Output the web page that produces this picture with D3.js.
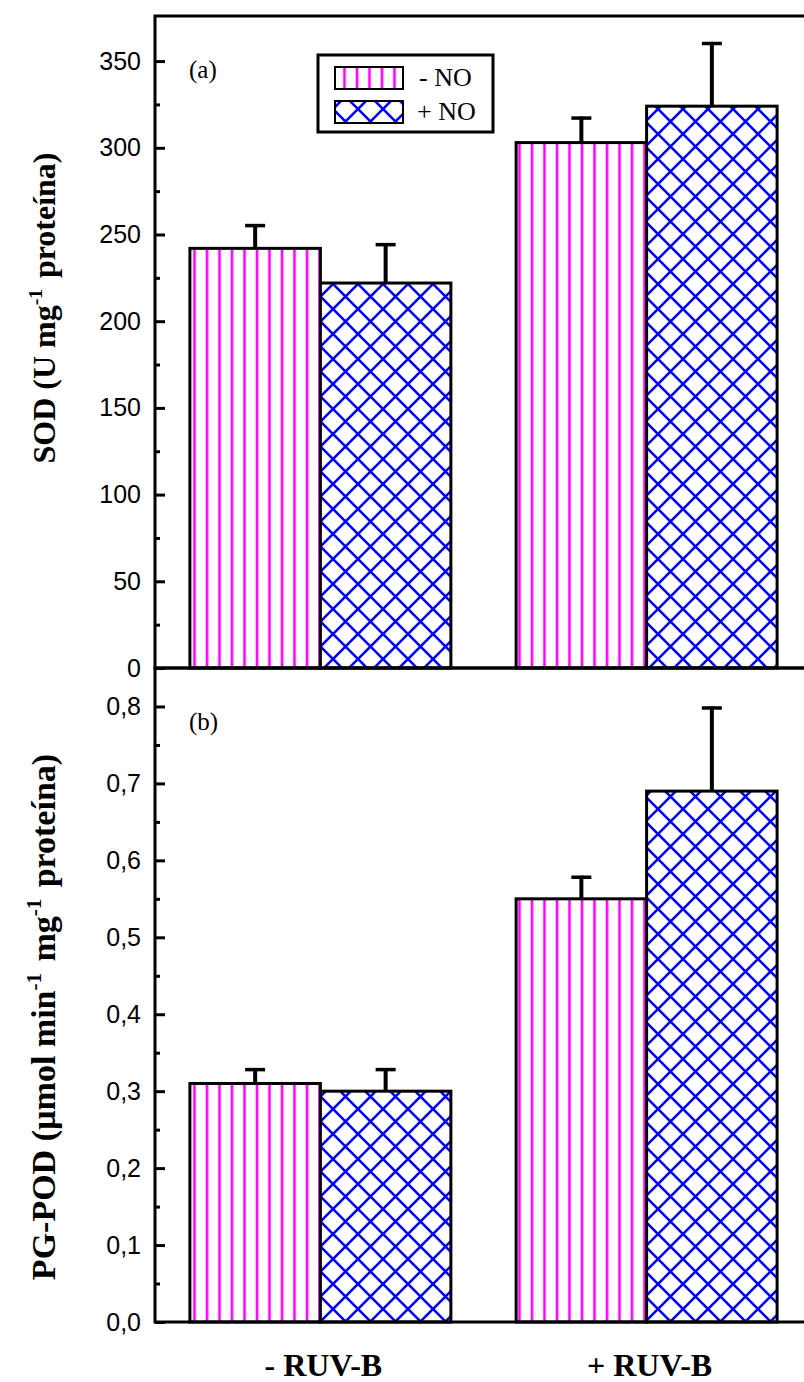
<!DOCTYPE html>
<html>
<head>
<meta charset="utf-8">
<script src="https://cdn.jsdelivr.net/npm/d3@7"></script>
<style>
html,body{margin:0;padding:0;background:#fff;}
svg{display:block;}
</style>
</head>
<body>
<div id="chart"></div>
<script>
// ---- data ----
const groups = ["- RUV-B", "+ RUV-B"];
const series = ["- NO", "+ NO"];
const sodMinusNO = [242, 303];
const sodPlusNO = [222, 324];
const sodErrMinusNO = [14, 15];
const sodErrPlusNO = [23, 37];
const podMinusNO = [0.31, 0.55];
const podPlusNO = [0.30, 0.69];
const podErrMinusNO = [0.02, 0.03];
const podErrPlusNO = [0.03, 0.11];
const sodTicks = [0, 50, 100, 150, 200, 250, 300, 350];
const sodMinorTicks = [25, 75, 125, 175, 225, 275, 325];
const podTicks = [0, 0.1, 0.2, 0.3, 0.4, 0.5, 0.6, 0.7, 0.8];
const podMinorTicks = [0.05, 0.15, 0.25, 0.35, 0.45, 0.55, 0.65, 0.75];

const W = 804, H = 1382;
const svg = d3.select("#chart").append("svg").attr("width", W).attr("height", H);

const colors = {"- NO": "#ff00ff", "+ NO": "#0000ff"};

// patterns
const defs = svg.append("defs");
const pv = defs.append("pattern").attr("id", "pat-minus").attr("patternUnits", "userSpaceOnUse")
  .attr("width", 12.5).attr("height", 10).attr("x", 1);
pv.append("rect").attr("width", 12.5).attr("height", 10).attr("fill", "#fff");
pv.append("line").attr("x1", 6).attr("x2", 6).attr("y1", 0).attr("y2", 10)
  .attr("stroke", colors["- NO"]).attr("stroke-width", 2.6);
const ph = defs.append("pattern").attr("id", "pat-plus").attr("patternUnits", "userSpaceOnUse")
  .attr("width", 25).attr("height", 25).attr("x", 8).attr("y", 9);
ph.append("rect").attr("width", 25).attr("height", 25).attr("fill", "#fff");
ph.append("path").attr("d", "M-2,-2L27,27M27,-2L-2,27")
  .attr("stroke", colors["+ NO"]).attr("stroke-width", 2.6).attr("fill", "none");
const patId = {"- NO": "url(#pat-minus)", "+ NO": "url(#pat-plus)"};

const x0 = d3.scaleBand().domain(groups).range([155, 812]).paddingInner(0.2).paddingOuter(0.107);
const x1 = d3.scaleBand().domain(series).range([0, x0.bandwidth()]);

function panel(cfg) {
  const y = d3.scaleLinear().domain(cfg.domain).range([cfg.bottom, cfg.top]);
  const g = svg.append("g");
  const rows = [];
  groups.forEach((gr, i) => {
    rows.push({g: gr, s: "- NO", v: cfg.minus[i], e: cfg.errMinus[i]});
    rows.push({g: gr, s: "+ NO", v: cfg.plus[i], e: cfg.errPlus[i]});
  });
  // error bars
  rows.forEach(d => {
    const cx = x0(d.g) + x1(d.s) + x1.bandwidth() / 2;
    g.append("line").attr("x1", cx).attr("x2", cx).attr("y1", y(d.v)).attr("y2", y(d.v + d.e))
      .attr("stroke", "#000").attr("stroke-width", 4);
    g.append("line").attr("x1", cx - 10).attr("x2", cx + 10).attr("y1", y(d.v + d.e) + 1.5).attr("y2", y(d.v + d.e) + 1.5)
      .attr("stroke", "#000").attr("stroke-width", 3.5);
  });
  g.selectAll("rect.bar").data(rows).join("rect").attr("class", "bar")
    .attr("x", d => x0(d.g) + x1(d.s))
    .attr("width", x1.bandwidth())
    .attr("y", d => y(d.v))
    .attr("height", d => y(0) - y(d.v))
    .attr("fill", d => patId[d.s])
    .attr("stroke", "#000").attr("stroke-width", 3);

  // frame
  svg.append("rect").attr("x", 155).attr("y", cfg.top).attr("width", 812 - 155).attr("height", cfg.bottom - cfg.top)
    .attr("fill", "none").attr("stroke", "#000").attr("stroke-width", 3);

  // axes
  const ax = svg.append("g").attr("transform", "translate(155,0)")
    .call(d3.axisLeft(y).tickValues(cfg.ticks).tickSize(-10).tickPadding(14).tickFormat(cfg.fmt));
  ax.select(".domain").remove();
  ax.selectAll(".tick line").attr("stroke-width", 3);
  ax.selectAll(".tick text").attr("font-family", "'Liberation Sans', Arial, sans-serif").attr("font-size", 25).attr("fill", "#000");
  const axm = svg.append("g").attr("transform", "translate(155,0)")
    .call(d3.axisLeft(y).tickValues(cfg.minor).tickSize(-5).tickFormat(""));
  axm.select(".domain").remove();
  axm.selectAll(".tick line").attr("stroke-width", 3);

  // panel label
  svg.append("text").attr("x", 189).attr("y", cfg.top + 62).attr("font-family", "'Liberation Serif', 'Times New Roman', serif")
    .attr("font-size", 25).text(cfg.label);
  return y;
}

panel({domain: [0, 376], top: 16, bottom: 668, minus: sodMinusNO, plus: sodPlusNO,
  errMinus: sodErrMinusNO, errPlus: sodErrPlusNO, ticks: sodTicks, minor: sodMinorTicks,
  fmt: d3.format("d"), label: "(a)"});
panel({domain: [0, 0.85], top: 668, bottom: 1322, minus: podMinusNO, plus: podPlusNO,
  errMinus: podErrMinusNO, errPlus: podErrPlusNO, ticks: podTicks, minor: podMinorTicks,
  fmt: v => d3.format(".1f")(v).replace(".", ","), label: "(b)"});

// x-axis category labels
svg.append("g").selectAll("text").data(groups).join("text")
  .attr("x", d => x0(d) + x0.bandwidth() / 2 + 3).attr("y", 1376)
  .attr("text-anchor", "middle").attr("font-family", "'Liberation Serif', 'Times New Roman', serif")
  .attr("font-weight", "bold").attr("font-size", 32).text(d => d);

// legend
const lg = svg.append("g");
lg.append("rect").attr("x", 318).attr("y", 55).attr("width", 175).attr("height", 77)
  .attr("fill", "#fff").attr("stroke", "#000").attr("stroke-width", 3);
series.forEach((s, i) => {
  lg.append("rect").attr("x", 335).attr("y", 67 + i * 34).attr("width", 68).attr("height", 22)
    .attr("fill", patId[s]).attr("stroke", "#000").attr("stroke-width", 2);
  lg.append("text").attr("x", i === 0 ? 419 : 417).attr("y", 86 + i * 34)
    .attr("font-family", "'Liberation Serif', 'Times New Roman', serif").attr("font-size", 26).text(s);
});

// y titles
function ytitle(cx, cy, size, parts) {
  const t = svg.append("text").attr("transform", `translate(${cx},${cy}) rotate(-90)`)
    .attr("text-anchor", "middle").attr("font-family", "'Liberation Serif', 'Times New Roman', serif")
    .attr("font-weight", "bold").attr("font-size", size);
  parts.forEach(p => {
    if (p.sup) {
      t.append("tspan").attr("font-size", size * 0.62).attr("dy", -size * 0.42).text(p.t);
      t.append("tspan").attr("dy", size * 0.42).text("\u200a");
    } else {
      t.append("tspan").text(p.t);
    }
  });
}
ytitle(55, 308, 32, [{t: "SOD (U mg"}, {t: "-1", sup: true}, {t: " proteína)"}]);
ytitle(55, 1017, 34, [{t: "PG-POD (µmol min"}, {t: "-1", sup: true}, {t: " mg"}, {t: "-1", sup: true}, {t: " proteína)"}]);
</script>
</body>
</html>
